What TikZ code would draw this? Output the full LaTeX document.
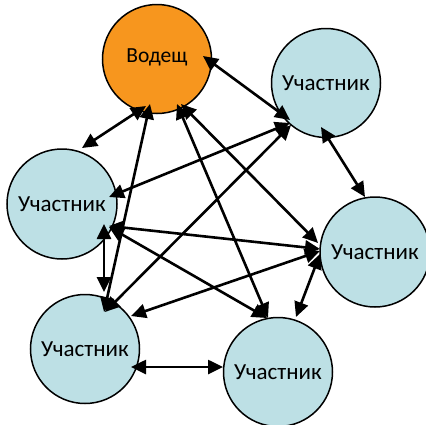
\documentclass[tikz,border=0pt]{standalone}
\usepackage{fontspec}
\setmainfont{Carlito}
\usetikzlibrary{arrows.meta}
\definecolor{leadfill}{RGB}{247,150,30}
\definecolor{partfill}{RGB}{189,224,229}
\begin{document}
\begin{tikzpicture}[x=1pt,y=-1pt,
  circ/.style={circle,draw=black,line width=1.5pt,inner sep=0pt,minimum size=109pt},
  pnode/.style={circ,fill=partfill,font=\fontsize{23}{27}\selectfont},
  lnode/.style={circ,fill=leadfill,font=\fontsize{21.5}{26}\selectfont},
  link/.style={line width=2.6pt,{Triangle[length=15pt,width=14pt]}-{Triangle[length=15pt,width=14pt]}}]
\useasboundingbox (0,0) rectangle (426,424);
\node[lnode] (L) at (157,59) {\raisebox{6pt}{Водещ}};
\node[pnode] (P1) at (326,83) {Участник};
\node[pnode,minimum size=110pt] (P2) at (62,204) {Участник};
\node[pnode] (P3) at (85,349) {Участник};
\node[pnode,minimum size=110pt] (P4) at (375,252) {Участник};
\node[pnode] (P5) at (278,372) {Участник};
% leader links
\draw[link] ([shift={(-11,47)}]L.center) -- ([shift={(20,-56)}]P2.center);
\draw[link] ([shift={(-7,45)}]L.center) -- ([shift={(19,-37)}]P3.center);
\draw[link] ([shift={(20,45)}]L.center) -- ([shift={(-10,-54)}]P5.center);
\draw[link] ([shift={(24,45)}]L.center) -- ([shift={(-57,-9)}]P4.center);
\draw[link] ([shift={(46,-3)}]L.center) -- ([shift={(-36,37)}]P1.center);
% P1 links
\draw[link] ([shift={(-36,40)}]P1.center) -- ([shift={(47,-7)}]P2.center);
\draw[link] ([shift={(-35,42)}]P1.center) -- ([shift={(20,-37)}]P3.center);
\draw[link] ([shift={(-5,44)}]P1.center) -- ([shift={(-10,-55)}]P4.center);
% P2 links
\draw[link] ([shift={(42,20)}]P2.center) -- ([shift={(19,-57)}]P3.center);
\draw[link] ([shift={(47,22)}]P2.center) -- ([shift={(-55,-3)}]P4.center);
\draw[link] ([shift={(47,23)}]P2.center) -- ([shift={(-11,-54)}]P5.center);
% P3 / P4 / P5 links
\draw[link] ([shift={(46,-33)}]P3.center) -- ([shift={(-55,-1)}]P4.center);
\draw[link] ([shift={(-55,2)}]P4.center) -- ([shift={(18,-55)}]P5.center);
\draw[link] ([shift={(46,18)}]P3.center) -- ([shift={(-55,-5)}]P5.center);
\end{tikzpicture}
\end{document}
